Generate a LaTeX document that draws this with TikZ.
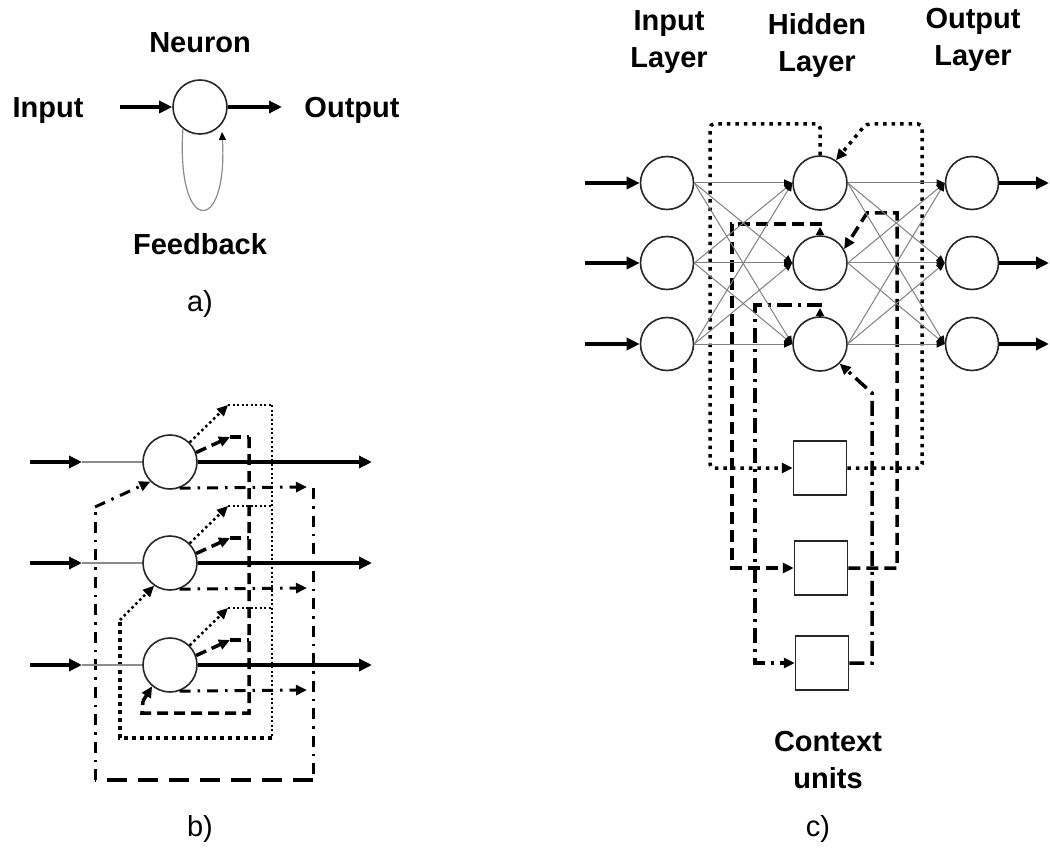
\documentclass[tikz,border=0pt]{standalone}
\usepackage{fontspec}
\setmainfont{Liberation Sans}
\usetikzlibrary{arrows.meta}
\begin{document}
\begin{tikzpicture}[x=1pt,y=-1pt,
  lbl/.style={font=\fontsize{29}{37}\selectfont\bfseries, align=center, inner sep=0pt},
  capt/.style={font=\fontsize{29}{37}\selectfont, inner sep=0pt},
  neu/.style={circle, draw=black!85, line width=1.6pt, minimum size=54pt, inner sep=0pt},
  neuc/.style={circle, draw=black!85, line width=1.6pt, minimum size=53pt, inner sep=0pt},
  ctx/.style={rectangle, draw=black!85, line width=1.5pt, minimum width=53pt, minimum height=54pt, inner sep=0pt},
  thickarr/.style={line width=4pt, -{Triangle[length=13pt,width=12pt]}},
  thinline/.style={line width=1.2pt, draw=black!45},
  conn/.style={line width=1pt, draw=black!50, -{Triangle[length=8pt,width=7pt,color=black]}},
  tip/.style={-{Triangle[length=11pt,width=10pt]}},
  smalltip/.style={-{Triangle[length=8pt,width=8pt]}},
  cdot/.style={line width=3.5pt, dash pattern=on 3.5pt off 5pt},
  cdash/.style={line width=3.5pt, dash pattern=on 12pt off 6pt},
  cdashdot/.style={line width=3.5pt, dash pattern=on 15pt off 6pt on 3pt off 6pt},
  bdotthin/.style={line width=2pt, dash pattern=on 2pt off 2.5pt},
  bdotmid/.style={line width=2.5pt, dash pattern=on 2.5pt off 3pt},
  bdotthick/.style={line width=4pt, dash pattern=on 4pt off 4pt},
  bdash/.style={line width=3.5pt, dash pattern=on 11pt off 6pt},
  bdashdot/.style={line width=3pt, dash pattern=on 11pt off 7pt on 2.5pt off 7pt},
  blongdash/.style={line width=4pt, dash pattern=on 20pt off 11pt},
]
\useasboundingbox (0,0) rectangle (1050,853);

% ---------------- panel a ----------------
\node[neu] (A) at (200,107) {};
\node[lbl] (Aneu) at (200,43) {Neuron};
\node[lbl] (Ain) at (48,111) {Input};
\node[lbl] (Aout) at (352,110) {Output};
\node[lbl] (Afb) at (200,244) {Feedback};
\node[capt] (Acap) at (200,304) {a)};
\coordinate (Ainstart) at (120,107);
\coordinate (Aoutend) at (282,107);
\coordinate (Afbend) at (222,132);
\draw[thickarr] (Ainstart) -- (A.west);
\draw[thickarr] (A.east) -- (Aoutend);
\draw[thinline, -{Triangle[length=8pt,width=7pt,color=black]}] (A.232) .. controls (176,236) and (228,236) .. (Afbend);

% ---------------- panel b ----------------
\foreach \i/\y in {1/462,2/563,3/665} {
  \node[neu] (B\i) at (170,\y) {};
  \coordinate (Bin\i) at (30,\y);
  \coordinate (Bmid\i) at (82,\y);
  \coordinate (Bout\i) at (372,\y);
  \coordinate (Bdo\i) at (228,\y-57);
  \coordinate (Bdoe\i) at (272,\y-57);
  \coordinate (Bda\i) at (230,\y-25);
  \coordinate (Bdae\i) at (249,\y-25);
  \coordinate (Bdd\i) at (307,\y+25);
}
\foreach \i in {1,2,3} {
  \draw[bdotmid, tip] (B\i.45) -- (Bdo\i);
  \draw[bdotthin] (Bdo\i) -- (Bdoe\i);
  \draw[bdash, tip] (B\i.20) -- (Bda\i);
  \draw[bdash] (Bda\i) -- (Bdae\i);
  \draw[bdashdot, tip] (B\i.290) -- (Bdd\i);
}
% dotted bus -> neuron 2
\coordinate (Bdb) at (272,738);
\coordinate (Bdl) at (120,738);
\coordinate (Bdu) at (120,620);
\draw[bdotthin] (Bdoe1) -- (Bdb);
\draw[bdotthick] (Bdb) -- (Bdl) -- (Bdu);
\draw[bdotmid, tip] (Bdu) -- (B2.235);
% dashed bus -> neuron 3
\coordinate (Bsb) at (249,713);
\coordinate (Bsl) at (142,713);
\coordinate (Bsu) at (143,701);
\draw[bdash] (Bdae1) -- (Bsb) -- (Bsl) -- (Bsu);
\draw[bdash, tip] (Bsu) -- (B3.230);
% dash-dot bus -> neuron 1
\coordinate (Bct) at (313,488);
\coordinate (Bcb) at (313,780);
\coordinate (Bcl) at (95,780);
\coordinate (Bcu) at (95,507);
\draw[bdashdot] (Bct) -- (Bcb);
\draw[blongdash] (Bcb) -- (Bcl);
\draw[bdashdot] (Bcl) -- (Bcu);
\draw[bdashdot, tip] (Bcu) -- (B1.225);
% inputs / outputs
\foreach \i in {1,2,3} {
  \draw[thickarr] (Bin\i) -- (Bmid\i);
  \draw[thinline] (Bmid\i) -- (B\i.west);
  \draw[thickarr] (B\i.east) -- (Bout\i);
}
\node[capt] (Bcap) at (200,829) {b)};

% ---------------- panel c ----------------
\foreach \i/\y in {1/183,2/263,3/344} {
  \node[neuc] (I\i) at (667,\y) {};
  \node[neu] (H\i) at (820,\y) {};
  \node[neuc] (O\i) at (972,\y) {};
  \coordinate (Ci\i) at (585,\y);
  \coordinate (Co\i) at (1049,\y);
}
\node[ctx] (K1) at (820,468) {};
\node[ctx] (K2) at (821,568) {};
\node[ctx] (K3) at (822,663) {};

% dotted loop (hidden 1)
\coordinate (cd1) at (820,124);
\coordinate (cd2) at (710,124);
\coordinate (cd3) at (710,468);
\coordinate (cd4) at (922,468);
\coordinate (cd5) at (922,124);
\coordinate (cd6) at (866,124);
\draw[cdot, rounded corners=4pt, tip] (H1.north) -- (cd1) -- (cd2) -- (cd3) -- (K1.west);
\draw[cdot, rounded corners=4pt, tip] (K1.east) -- (cd4) -- (cd5) -- (cd6) -- (H1.55);

% dashed loop (hidden 2)
\coordinate (cs0) at (820,227);
\coordinate (cs1) at (822,224);
\coordinate (cs2) at (732,224);
\coordinate (cs3) at (732,568);
\coordinate (cs4) at (897,568);
\coordinate (cs5) at (897,213);
\coordinate (cs6) at (867,213);
\draw[line width=2pt, smalltip] (H2.north) -- (cs0);
\draw[cdash, tip] (cs1) -- (cs2) -- (cs3) -- (K2.west);
\draw[cdash, tip] (K2.east) -- (cs4) -- (cs5) -- (cs6) -- (H2.30);

% dash-dot loop (hidden 3)
\coordinate (cc0) at (820,308);
\coordinate (cc1) at (822,305);
\coordinate (cc2) at (755,305);
\coordinate (cc3) at (755,663);
\coordinate (cc4) at (872,663);
\coordinate (cc5) at (872,393);
\draw[line width=2pt, smalltip] (H3.north) -- (cc0);
\draw[cdashdot, tip] (cc1) -- (cc2) -- (cc3) -- (K3.west);
\draw[cdashdot, tip] (K3.east) -- (cc4) -- (cc5) -- (H3.-45);

% weighted connections
\foreach \i in {1,2,3} {
  \foreach \j in {1,2,3} {
    \draw[conn] (I\i.east) -- (H\j.west);
    \draw[conn] (H\i.east) -- (O\j.west);
  }
}
\foreach \i in {1,2,3} {
  \draw[thickarr] (Ci\i) -- (I\i.west);
  \draw[thickarr] (O\i.east) -- (Co\i);
}

\node[lbl] (tIn) at (669,42) {Input\\Layer};
\node[lbl] (tHid) at (817,46) {Hidden\\Layer};
\node[lbl] (tOut) at (973,40) {Output\\Layer};
\node[lbl] (tCtx) at (828,760) {Context\\units};
\node[capt] (Ccap) at (818,829) {c)};
\end{tikzpicture}
\end{document}
